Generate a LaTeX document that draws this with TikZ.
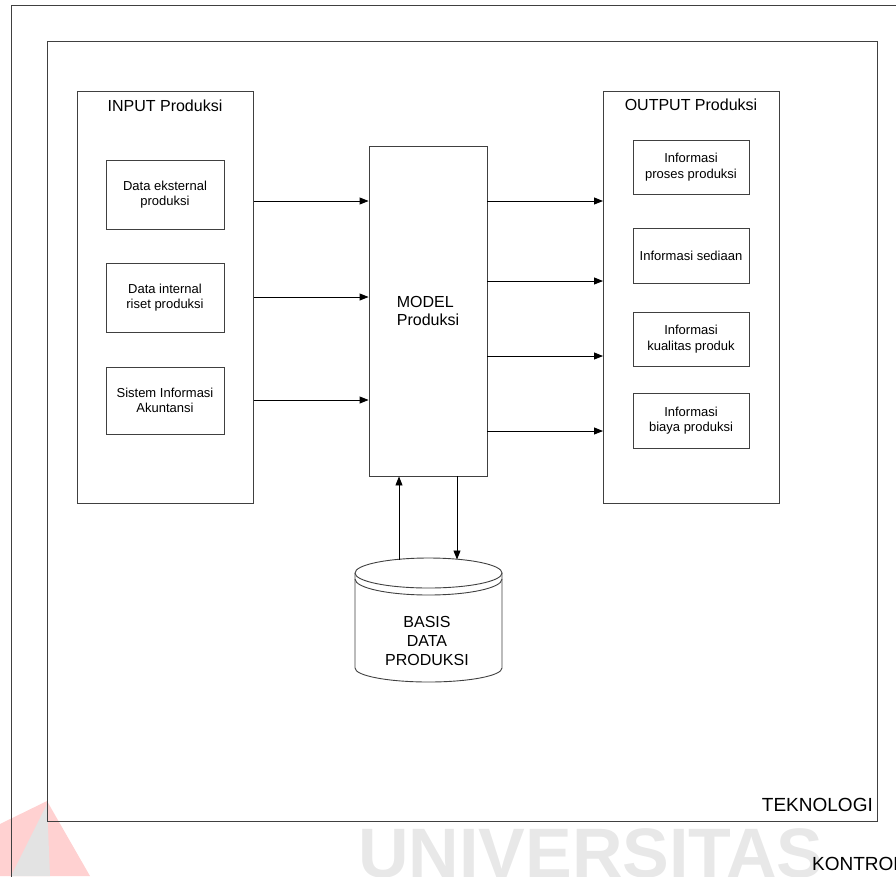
\documentclass[tikz,border=0pt]{standalone}
\usepackage{fontspec}
\setmainfont{Liberation Sans}
\usetikzlibrary{arrows.meta}
\begin{document}
\begin{tikzpicture}[x=1pt,y=-1pt,
  frame/.style={draw=black!75,line width=0.9pt},
  box/.style={frame,inner sep=0pt,minimum width=118pt},
  outbx/.style={frame,inner sep=0pt,minimum width=116pt},
  smalltext/.style={font=\fontsize{13}{15.5}\selectfont,align=center},
  bigtext/.style={font=\fontsize{16}{18}\selectfont},
  labeltext/.style={font=\fontsize{19}{22}\selectfont},
  arr/.style={draw=black,line width=0.9pt,-{Triangle[length=9pt,width=7pt]}}]
\useasboundingbox (0,0) rectangle (896,876);
\clip (0,0) rectangle (896,876);

% faint logo and watermark lettering
\fill[red!18] (47,801) -- (0,824) -- (0,876) -- (90,876) -- cycle;
\fill[black!11] (47,804) -- (11,876) -- (50,876) -- cycle;
\node[anchor=base west,inner sep=0pt,text=black!9,
      font=\bfseries\fontsize{70}{70}\selectfont] (wm) at (358,877) {UNIVERSITAS};

% control frame (runs past the page edges) and technology frame
\draw[frame] (11,900) -- (11,5) -- (900,5);
\node[labeltext,anchor=base west,inner sep=0pt] (kontrol) at (812,870.5) {KONTROL};
\node[frame,anchor=north west,inner sep=0pt,minimum width=830pt,minimum height=780pt] (tek) at (47,41) {};
\node[labeltext,anchor=base east,inner sep=0pt] (teklbl) at (873,811) {TEKNOLOGI};

% input side
\node[frame,anchor=north west,inner sep=0pt,minimum width=176pt,minimum height=412pt] (inbox) at (77,91) {};
\node[bigtext,anchor=base,inner sep=0pt] (intitle) at (165,111) {INPUT Produksi};
\node[box,smalltext,minimum height=69pt] (in1) at (165,194.5) {Data eksternal\\produksi};
\node[box,smalltext,minimum height=69pt] (in2) at (165,297.5) {Data internal\\riset produksi};
\node[box,smalltext,minimum height=67pt] (in3) at (165,400.5) {Sistem Informasi\\Akuntansi};

% model
\node[frame,bigtext,align=left,inner sep=0pt,minimum width=118pt,minimum height=330pt] (model) at (428,311) {MODEL\\Produksi};

% output side
\node[frame,anchor=north west,inner sep=0pt,minimum width=176pt,minimum height=412pt] (outbox) at (603,91) {};
\node[bigtext,anchor=base,inner sep=0pt] (outtitle) at (691,110) {OUTPUT Produksi};
\node[outbx,smalltext,minimum height=54pt] (out1) at (691,167) {Informasi\\proses produksi};
\node[outbx,smalltext,minimum height=55pt] (out2) at (691,255.5) {Informasi sediaan};
\node[outbx,smalltext,minimum height=54pt] (out3) at (691,339) {Informasi\\kualitas produk};
\node[outbx,smalltext,minimum height=55pt] (out4) at (691,420.5) {Informasi\\biaya produksi};

% heights of the connectors
\coordinate (ya) at (0,201);
\coordinate (yb) at (0,297);
\coordinate (yc) at (0,400);
\coordinate (yd) at (0,281);
\coordinate (ye) at (0,356);
\coordinate (yf) at (0,431);

\draw[arr] (inbox.east |- ya) -- (model.west |- ya);
\draw[arr] (inbox.east |- yb) -- (model.west |- yb);
\draw[arr] (inbox.east |- yc) -- (model.west |- yc);
\draw[arr] (model.east |- ya) -- (outbox.west |- ya);
\draw[arr] (model.east |- yd) -- (outbox.west |- yd);
\draw[arr] (model.east |- ye) -- (outbox.west |- ye);
\draw[arr] (model.east |- yf) -- (outbox.west |- yf);

% database cylinder
\draw[frame,fill=white] (355,573) -- (355,668)
  arc[start angle=180,end angle=0,x radius=73.5,y radius=14] -- (502,573);
\draw[frame] (428.5,573) ellipse[x radius=73.5,y radius=15];
\draw[frame] (355,579) arc[start angle=180,end angle=0,x radius=73.5,y radius=16];
\node[bigtext,align=center,inner sep=0pt,font=\fontsize{16}{19}\selectfont] (db) at (427,641) {BASIS\\DATA\\PRODUKSI};

\coordinate (dbup) at (399,559.5);
\coordinate (dbdown) at (457,559.5);
\draw[arr] (dbup) -- (dbup |- model.south);
\draw[arr] (model.south -| dbdown) -- (dbdown);
\end{tikzpicture}
\end{document}
